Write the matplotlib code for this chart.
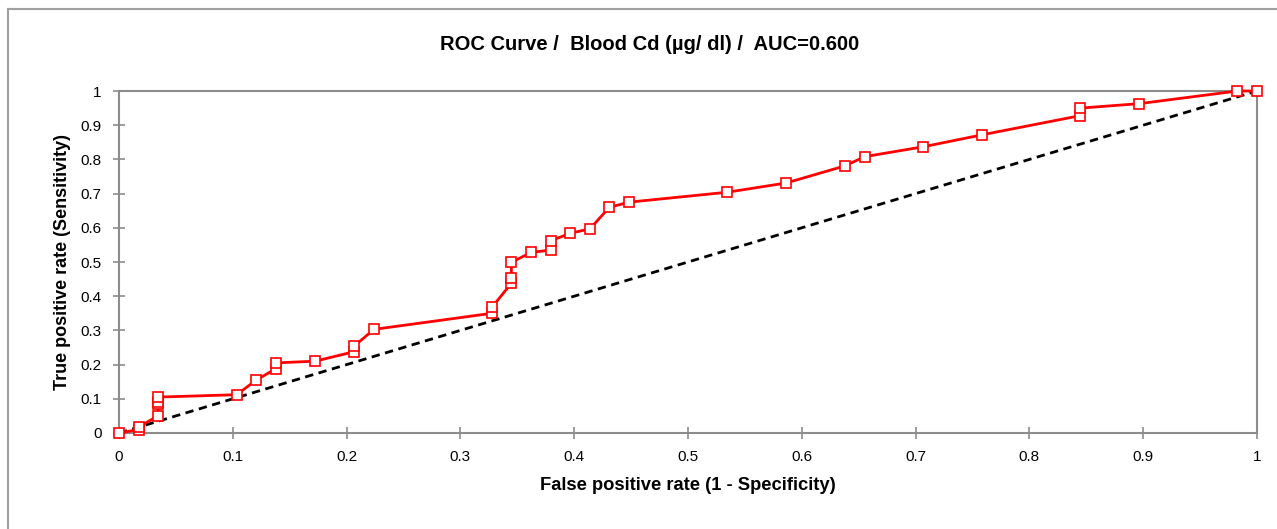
import matplotlib
matplotlib.use("Agg")
import matplotlib.pyplot as plt
from matplotlib.lines import Line2D

fpr = [0.0, 0.0172, 0.0172, 0.0345, 0.0345, 0.0345, 0.0345, 0.1034, 0.1207, 0.1379, 0.1379,
       0.1724, 0.2069, 0.2069, 0.2241, 0.3276, 0.3276, 0.3448, 0.3448, 0.3448, 0.3621,
       0.3793, 0.3793, 0.3966, 0.4138, 0.4310, 0.4483, 0.5345, 0.5862, 0.6379, 0.6552,
       0.7069, 0.7586, 0.8448, 0.8448, 0.8966, 0.9828, 1.0]
tpr = [0.0, 0.010, 0.018, 0.050, 0.084, 0.092, 0.105, 0.112, 0.155, 0.188, 0.205,
       0.210, 0.238, 0.255, 0.303, 0.350, 0.367, 0.438, 0.452, 0.499, 0.528,
       0.535, 0.562, 0.584, 0.597, 0.660, 0.675, 0.704, 0.731, 0.781, 0.808,
       0.837, 0.872, 0.928, 0.950, 0.963, 1.0, 1.0]
ticks = [0, 0.1, 0.2, 0.3, 0.4, 0.5, 0.6, 0.7, 0.8, 0.9, 1]
tick_labels = ["0", "0.1", "0.2", "0.3", "0.4", "0.5", "0.6", "0.7", "0.8", "0.9", "1"]
title = "ROC Curve /  Blood Cd (µg/ dl) /  AUC=0.600"

plt.rcParams['font.family'] = ['Liberation Sans', 'DejaVu Sans']

fig = plt.figure(figsize=(12.77, 5.29), dpi=100)
fig.patch.set_facecolor('white')
# outer frame (left and top edges visible)
fig.add_artist(Line2D([8/1277, 8/1277], [0, 1 - 9/529], transform=fig.transFigure,
                      color='#a0a0a0', lw=1.5))
fig.add_artist(Line2D([8/1277, 1], [1 - 9/529, 1 - 9/529], transform=fig.transFigure,
                      color='#a0a0a0', lw=1.5))

ax = fig.add_axes([119/1277, (529-433)/529, (1257-119)/1277, (433-91)/529])
ax.plot([0, 1], [0, 1], linestyle=(0, (3, 2)), color='black', lw=2, zorder=2)
ax.plot(fpr, tpr, color='#ff0000', lw=2, marker='s', markersize=6.5,
        markerfacecolor='white', markeredgecolor='#ff0000', markeredgewidth=1.2,
        zorder=3, clip_on=False)
ax.set_xlim(0, 1)
ax.set_ylim(0, 1)
ax.set_xticks(ticks)
ax.set_xticklabels(tick_labels)
ax.set_yticks(ticks)
ax.set_yticklabels(tick_labels)
for s in ax.spines.values():
    s.set_color('#8c8c8c')
    s.set_linewidth(1.5)
ax.tick_params(direction='inout', length=9, width=1.2, color='#8c8c8c',
               labelsize=11, pad=8)
ax.set_xlabel("False positive rate (1 - Specificity)", fontsize=13.2, fontweight='bold',
              labelpad=9)
ax.set_ylabel("True positive rate (Sensitivity)", fontsize=13, fontweight='bold',
              labelpad=7)
fig.text(650/1277, 1 - 44/529, title, ha='center', va='center',
         fontsize=14.5, fontweight='bold')

fig.savefig("out.png", dpi=100, facecolor='white')
